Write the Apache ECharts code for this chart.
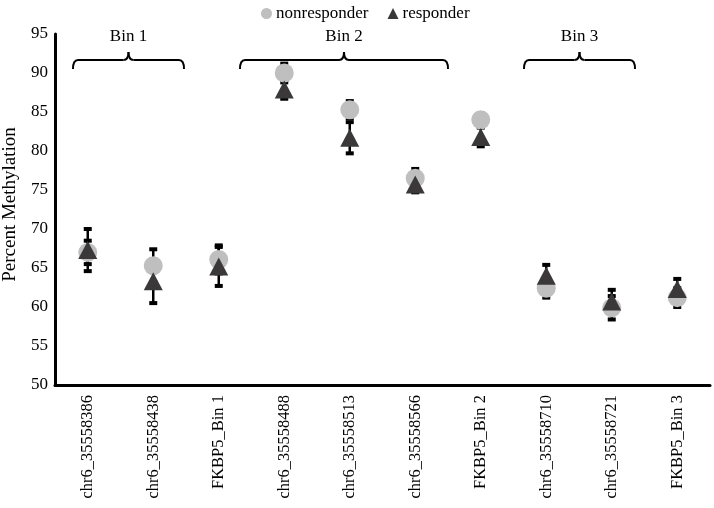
<!DOCTYPE html>
<html>
<head>
<meta charset="utf-8">
<script src="https://cdn.jsdelivr.net/npm/echarts@6/dist/echarts.min.js"></script>
<style>html,body{margin:0;padding:0;background:#fff}#c{width:714px;height:508px}</style>
</head>
<body>
<div id="c"></div>
<script>
var categories = ['chr6_35558386','chr6_35558438','FKBP5_Bin 1','chr6_35558488','chr6_35558513','chr6_35558566','FKBP5_Bin 2','chr6_35558710','chr6_35558721','FKBP5_Bin 3'];
var nonresponder = [67.0, 65.3, 66.1, 90.0, 85.3, 76.5, 84.0, 62.4, 59.9, 61.2];
var nonresponderErr = [1.5, 2.1, 1.8, 1.2, 1.1, 1.2, 0.8, 1.2, 1.5, 1.2];
var responder = [67.3, 63.3, 65.2, 87.9, 81.7, 75.7, 81.8, 64.0, 60.7, 62.3];
var responderErr = [2.7, 2.8, 2.5, 1.2, 2.0, 1.0, 1.2, 1.4, 1.5, 1.3];
var yTicks = [50, 55, 60, 65, 70, 75, 80, 85, 90, 95];
var bins = [
  {name: 'Bin 1', x0: 73, x1: 184},
  {name: 'Bin 2', x0: 240, x1: 448},
  {name: 'Bin 3', x0: 524, x1: 635}
];

var FONT = '"Liberation Serif", "Times New Roman", serif';

function errData(vals, errs) {
  return vals.map(function (v, i) { return [i, v - errs[i], v + errs[i]]; });
}
function renderErr(params, api) {
  var x = api.value(0);
  var lo = api.coord([x, api.value(1)]);
  var hi = api.coord([x, api.value(2)]);
  var cw = 4;
  var st = {stroke: '#000', lineWidth: 2.5};
  var cs = {stroke: '#000', lineWidth: 4};
  return {
    type: 'group',
    children: [
      {type: 'line', shape: {x1: lo[0], y1: lo[1], x2: hi[0], y2: hi[1]}, style: st},
      {type: 'line', shape: {x1: hi[0] - cw, y1: hi[1], x2: hi[0] + cw, y2: hi[1]}, style: cs},
      {type: 'line', shape: {x1: lo[0] - cw, y1: lo[1], x2: lo[0] + cw, y2: lo[1]}, style: cs}
    ]
  };
}

var chart = echarts.init(document.getElementById('c'));
var graphics = [];
var bst = {stroke: '#000', lineWidth: 2, fill: null};
bins.forEach(function (b) {
  var m = (b.x0 + b.x1) / 2;
  var yTop = 60, yEnd = 69, yMid = 52, r = 5;
  graphics.push({type: 'bezierCurve', shape: {x1: b.x0, y1: yEnd, cpx1: b.x0, cpy1: yTop, x2: b.x0 + r, y2: yTop}, style: bst});
  graphics.push({type: 'line', shape: {x1: b.x0 + r, y1: yTop, x2: m - r, y2: yTop}, style: bst});
  graphics.push({type: 'bezierCurve', shape: {x1: m - r, y1: yTop, cpx1: m, cpy1: yTop, x2: m, y2: yMid}, style: bst});
  graphics.push({type: 'bezierCurve', shape: {x1: m, y1: yMid, cpx1: m, cpy1: yTop, x2: m + r, y2: yTop}, style: bst});
  graphics.push({type: 'line', shape: {x1: m + r, y1: yTop, x2: b.x1 - r, y2: yTop}, style: bst});
  graphics.push({type: 'bezierCurve', shape: {x1: b.x1 - r, y1: yTop, cpx1: b.x1, cpy1: yTop, x2: b.x1, y2: yEnd}, style: bst});
  graphics.push({
    type: 'text', x: m, y: 37,
    style: {text: b.name, font: '17px ' + FONT, fill: '#000', textAlign: 'center', textVerticalAlign: 'middle'}
  });
});

chart.setOption({
  animation: false,
  backgroundColor: '#fff',
  grid: {left: 55, right: 4, top: 34, bottom: 123, containLabel: false, outerBoundsMode: 'none'},
  legend: {
    top: 0, left: 256,
    itemWidth: 11, itemHeight: 11, itemGap: 19,
    textStyle: {fontFamily: FONT, fontSize: 17, color: '#000', padding: [0, 0, 0, -1]},
    data: [{name: 'nonresponder', icon: 'circle'}, {name: 'responder', icon: 'triangle'}]
  },
  xAxis: {
    type: 'category',
    data: categories,
    axisLine: {lineStyle: {color: '#000', width: 3}},
    axisTick: {show: false},
    axisLabel: {rotate: 90, margin: 10, interval: 0, fontFamily: FONT, fontSize: 16.5, color: '#000'},
    splitLine: {show: false}
  },
  yAxis: {
    type: 'value', min: yTicks[0], max: yTicks[yTicks.length - 1], interval: 5,
    name: 'Percent Methylation', nameLocation: 'middle', nameGap: 35,
    nameTextStyle: {fontFamily: FONT, fontSize: 19, color: '#000', padding: [0, 0, 0, 10]},
    axisLine: {show: true, lineStyle: {color: '#000', width: 3}},
    axisTick: {show: false},
    axisLabel: {margin: 7, fontFamily: FONT, fontSize: 17, color: '#000'},
    splitLine: {show: false}
  },
  series: [
    {type: 'custom', name: 'nrErr', renderItem: renderErr, data: errData(nonresponder, nonresponderErr), z: 1, silent: true},
    {type: 'custom', name: 'rErr', renderItem: renderErr, data: errData(responder, responderErr), z: 1, silent: true},
    {type: 'scatter', name: 'nonresponder', data: nonresponder, symbol: 'circle', symbolSize: 19,
     itemStyle: {color: '#bfbfbf', opacity: 1}, z: 3},
    {type: 'scatter', name: 'responder', data: responder, symbol: 'triangle', symbolSize: [19, 18],
     itemStyle: {color: '#3a3838', opacity: 1}, z: 4}
  ],
  graphic: graphics
});
</script>
</body>
</html>
